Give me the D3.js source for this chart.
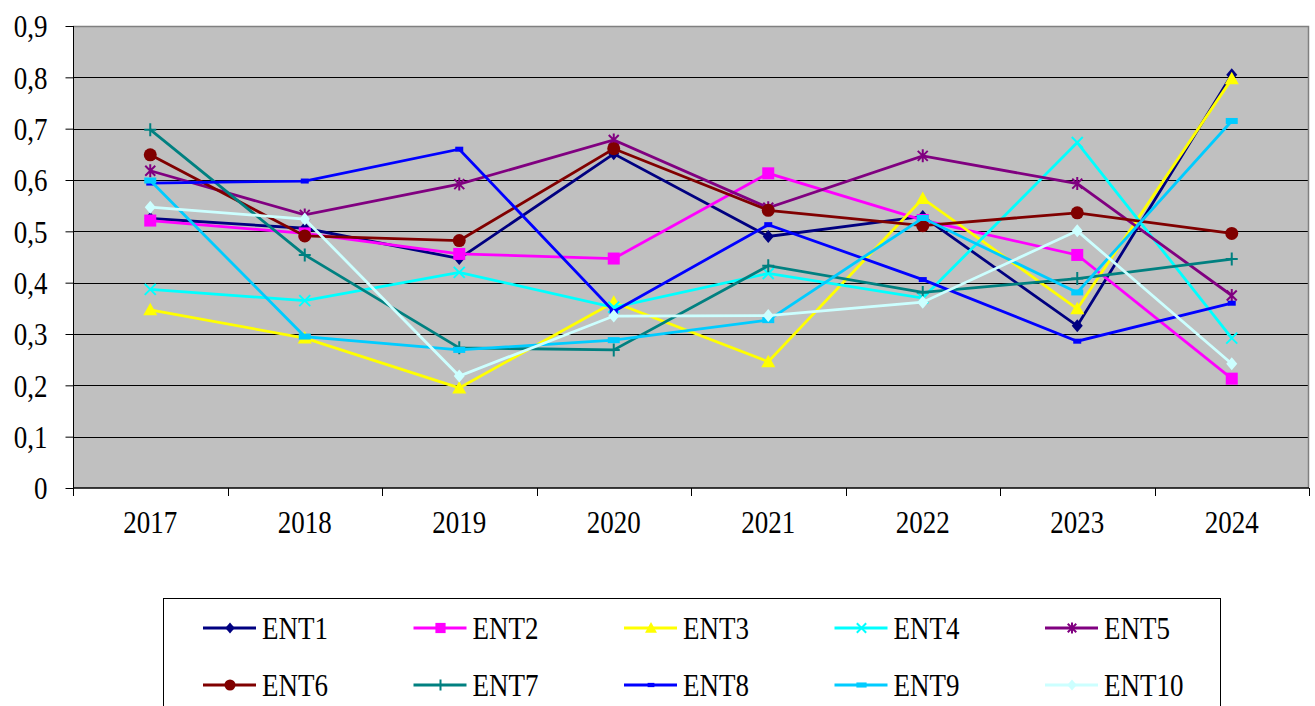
<!DOCTYPE html>
<html>
<head>
<meta charset="utf-8">
<script src="https://cdn.jsdelivr.net/npm/d3@7/dist/d3.min.js"></script>
<style>
  html, body { margin: 0; padding: 0; background: #ffffff; }
  svg { display: block; }
  text { font-family: "Liberation Serif", "Times New Roman", serif; fill: #000; }
</style>
</head>
<body>
<svg id="chart" width="1315" height="706"></svg>
<script>
// Years on the category axis
const years = ["2017", "2018", "2019", "2020", "2021", "2022", "2023", "2024"];

// Values per enterprise, one entry per year
const ENT1  = [0.525, 0.506, 0.447, 0.651, 0.490, 0.529, 0.316, 0.805];
const ENT2  = [0.521, 0.496, 0.456, 0.447, 0.613, 0.522, 0.454, 0.213];
const ENT3  = [0.347, 0.292, 0.195, 0.362, 0.246, 0.564, 0.349, 0.797];
const ENT4  = [0.387, 0.365, 0.420, 0.352, 0.418, 0.370, 0.673, 0.292];
const ENT5  = [0.618, 0.532, 0.592, 0.678, 0.546, 0.647, 0.593, 0.375];
const ENT6  = [0.649, 0.491, 0.482, 0.661, 0.541, 0.511, 0.536, 0.496];
const ENT7  = [0.698, 0.454, 0.273, 0.269, 0.433, 0.381, 0.408, 0.446];
const ENT8  = [0.594, 0.598, 0.660, 0.344, 0.513, 0.406, 0.286, 0.360];
const ENT9  = [0.599, 0.295, 0.269, 0.288, 0.327, 0.526, 0.381, 0.715];
const ENT10 = [0.547, 0.524, 0.218, 0.335, 0.336, 0.362, 0.501, 0.242];

const seriesNames = ["ENT1", "ENT2", "ENT3", "ENT4", "ENT5", "ENT6", "ENT7", "ENT8", "ENT9", "ENT10"];
const seriesValues = [ENT1, ENT2, ENT3, ENT4, ENT5, ENT6, ENT7, ENT8, ENT9, ENT10];
const seriesColors = ["#000080", "#ff00ff", "#ffff00", "#00ffff", "#800080",
                      "#800000", "#008080", "#0000ff", "#00ccff", "#ccffff"];
const seriesMarkers = ["diamond", "square", "triangle", "cross", "star",
                       "circle", "plus", "dash", "bar", "diamond"];

// Y axis ticks
const yTicks = [0, 0.1, 0.2, 0.3, 0.4, 0.5, 0.6, 0.7, 0.8, 0.9];

const svg = d3.select("#chart");
const plot = { left: 73, top: 26, right: 1309, bottom: 488 };
const textScaleY = 1.15;

const x = d3.scaleBand().domain(years).range([plot.left, plot.right]).padding(0);
const y = d3.scaleLinear().domain([0, 0.9]).range([plot.bottom, plot.top]);
const fmt = v => d3.format(".1~f")(v).replace(".", ",");

// Plot background
svg.append("rect")
  .attr("x", plot.left).attr("y", plot.top)
  .attr("width", plot.right - plot.left).attr("height", plot.bottom - plot.top)
  .attr("fill", "#c0c0c0");

// Horizontal gridlines
svg.append("g").selectAll("line")
  .data(yTicks.filter(t => t > 0 && t < 0.9))
  .join("line")
  .attr("x1", plot.left).attr("x2", plot.right)
  .attr("y1", d => Math.round(y(d)) + 0.5).attr("y2", d => Math.round(y(d)) + 0.5)
  .attr("stroke", "#000").attr("stroke-width", 1);

// Plot frame (top and right)
svg.append("path")
  .attr("d", `M${plot.left},${plot.top + 0.5}H${plot.right - 0.5}V${plot.bottom}`)
  .attr("fill", "none").attr("stroke", "#808080").attr("stroke-width", 1.5);

// Y axis
const yAxis = d3.axisLeft(y).tickValues(yTicks).tickSize(8).tickFormat(fmt).tickPadding(18);
const gy = svg.append("g").attr("transform", `translate(${plot.left + 0.5},0)`).call(yAxis);
gy.select(".domain").attr("stroke", "#000").attr("d", `M0,${plot.top}V${plot.bottom}`);
gy.selectAll(".tick line").attr("stroke", "#000");
gy.selectAll(".tick text")
  .attr("font-size", 27)
  .attr("font-family", "Liberation Serif, Times New Roman, serif")
  .attr("x", -26)
  .attr("dy", null)
  .attr("dominant-baseline", "central")
  .attr("transform", `scale(1,${textScaleY})`)
  .attr("y", 0);
gy.selectAll(".tick").each(function(d) {
  d3.select(this).select("text").attr("y", 0);
});

// X axis
const xAxis = d3.axisBottom(x).tickSize(0).tickPadding(0);
const gx = svg.append("g").attr("transform", `translate(0,${plot.bottom})`).call(xAxis);
gx.select(".domain").attr("stroke", "#000").attr("stroke-width", 1.5)
  .attr("d", `M${plot.left},0H${plot.right}`);
gx.selectAll(".tick text")
  .attr("font-size", 27)
  .attr("font-family", "Liberation Serif, Times New Roman, serif")
  .attr("dy", null)
  .attr("y", 0)
  .attr("transform", `translate(0,45) scale(1,${textScaleY})`);
// Category boundary ticks
svg.append("g").selectAll("line")
  .data(d3.range(years.length + 1))
  .join("line")
  .attr("x1", i => Math.round(plot.left + i * x.bandwidth()) + 0.5)
  .attr("x2", i => Math.round(plot.left + i * x.bandwidth()) + 0.5)
  .attr("y1", plot.bottom).attr("y2", plot.bottom + 8)
  .attr("stroke", "#000");

// Marker drawing
function drawMarker(g, type, color, s) {
  const k = s || 1;
  switch (type) {
    case "diamond":
      g.append("path").attr("d", `M0,${-6.5*k}L${5.5*k},0L0,${6.5*k}L${-5.5*k},0Z`).attr("fill", color);
      break;
    case "square":
      g.append("rect").attr("x", -6*k).attr("y", -6*k).attr("width", 12*k).attr("height", 12*k).attr("fill", color);
      break;
    case "triangle":
      g.append("path").attr("d", `M0,${-7*k}L${7*k},${5.5*k}L${-7*k},${5.5*k}Z`).attr("fill", color);
      break;
    case "cross":
      g.append("path").attr("d", `M${-5.5*k},${-5.5*k}L${5.5*k},${5.5*k}M${5.5*k},${-5.5*k}L${-5.5*k},${5.5*k}`)
        .attr("stroke", color).attr("stroke-width", 2);
      break;
    case "star":
      g.append("path").attr("d", `M${-5*k},${-5*k}L${5*k},${5*k}M${5*k},${-5*k}L${-5*k},${5*k}M0,${-6.5*k}L0,${6.5*k}`)
        .attr("stroke", color).attr("stroke-width", 2);
      break;
    case "circle":
      g.append("circle").attr("r", 6.5*k).attr("fill", color);
      break;
    case "plus":
      g.append("path").attr("d", `M${-6*k},0L${6*k},0M0,${-6.5*k}L0,${6.5*k}`)
        .attr("stroke", color).attr("stroke-width", 2);
      break;
    case "dash":
      g.append("rect").attr("x", -4*k).attr("y", -2.5*k).attr("width", 8*k).attr("height", 5*k).attr("fill", color);
      break;
    case "bar":
      g.append("rect").attr("x", -6*k).attr("y", -3*k).attr("width", 12*k).attr("height", 6*k).attr("fill", color);
      break;
  }
}

// Series lines and markers
const line = d3.line()
  .x((d, i) => x(years[i]) + x.bandwidth() / 2)
  .y(d => y(d));

seriesNames.forEach((name, si) => {
  const g = svg.append("g").attr("class", "series");
  g.append("path")
    .datum(seriesValues[si])
    .attr("d", line)
    .attr("fill", "none")
    .attr("stroke", seriesColors[si])
    .attr("stroke-width", 2.8)
    .attr("stroke-linejoin", "miter");
  seriesValues[si].forEach((v, i) => {
    const m = g.append("g")
      .attr("transform", `translate(${x(years[i]) + x.bandwidth() / 2},${y(v)})`);
    drawMarker(m, seriesMarkers[si], seriesColors[si]);
  });
});

// Legend
const legend = { left: 163, top: 598, right: 1220, bottom: 720 };
svg.append("rect")
  .attr("x", legend.left + 0.5).attr("y", legend.top + 0.5)
  .attr("width", legend.right - legend.left).attr("height", legend.bottom - legend.top)
  .attr("fill", "#fff").attr("stroke", "#000").attr("stroke-width", 1);

const colStep = 210.5;
const rowY = [628, 685];
seriesNames.forEach((name, si) => {
  const col = si % 5, row = Math.floor(si / 5);
  const lx = 203 + col * colStep;
  const ly = rowY[row];
  const g = svg.append("g").attr("transform", `translate(${lx},${ly})`);
  g.append("line").attr("x1", 0).attr("x2", 53).attr("y1", 0).attr("y2", 0)
    .attr("stroke", seriesColors[si]).attr("stroke-width", 2.8);
  const m = g.append("g").attr("transform", "translate(27,0)");
  drawMarker(m, seriesMarkers[si], seriesColors[si], 0.85);
  g.append("text")
    .attr("transform", `translate(59,0) scale(1,${textScaleY})`)
    .attr("dominant-baseline", "central")
    .attr("font-size", 27)
    .text(name);
});
</script>
</body>
</html>
